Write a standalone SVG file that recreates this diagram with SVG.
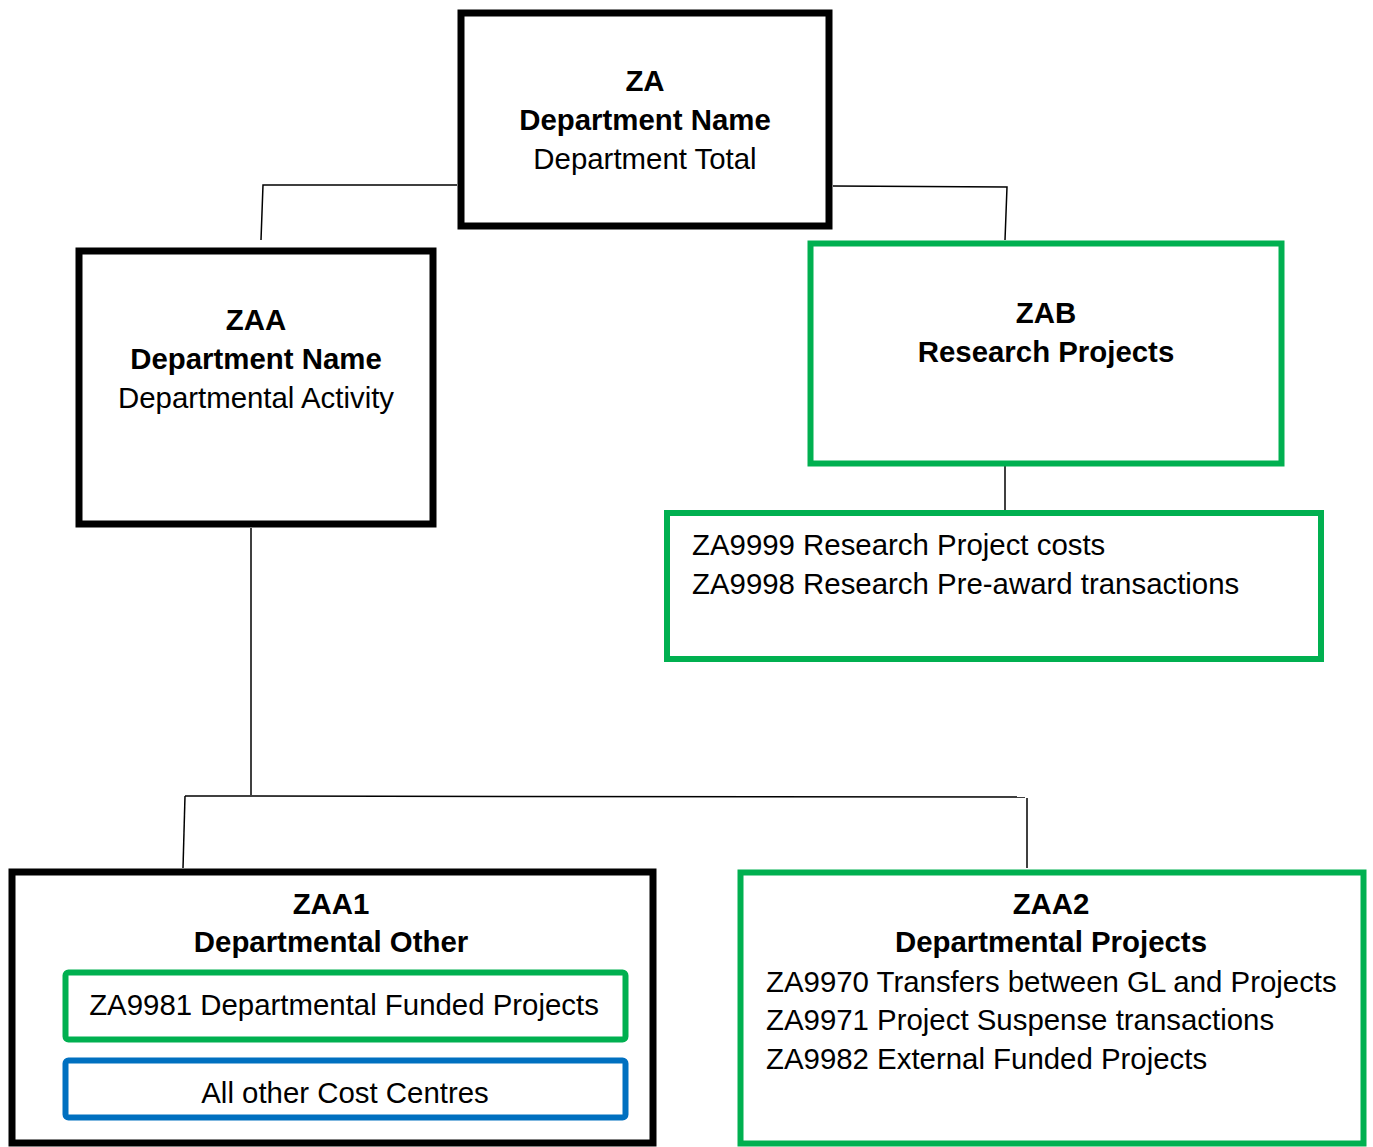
<svg xmlns="http://www.w3.org/2000/svg" width="1373" height="1147" viewBox="0 0 1373 1147">
<style>
text{font-family:"Liberation Sans",Arial,sans-serif;font-size:29.4px;fill:#000}
.b{font-weight:bold}
.c{text-anchor:middle}
.blk{fill:#fff;stroke:#000;stroke-width:7}
.grn{fill:#fff;stroke:#00B050;stroke-width:6}
.blu{fill:#fff;stroke:#0070C0;stroke-width:6}
.con{fill:none;stroke:#000;stroke-width:1.5}
</style>
<rect width="1373" height="1147" fill="#fff"/>
<g id="connectors">
<path class="con" d="M457,185 L263,185 L261,240"/>
<path class="con" d="M833,186 L1007,187 L1005,240"/>
<path class="con" d="M1005,460 L1005,513"/>
<path class="con" d="M251,528 L251,795"/>
<path class="con" d="M185,796 L1025,797"/>
<path class="con" d="M185,796 L183,868"/>
<path class="con" d="M1027,798 L1027,868"/>
</g>
<g id="ZA">
<rect class="blk" x="461" y="13" width="368" height="213"/>
<text class="b c" x="645" y="91">ZA</text>
<text class="b c" x="645" y="130">Department Name</text>
<text class="c" x="645" y="169">Department Total</text>
</g>
<g id="ZAA">
<rect class="blk" x="79" y="251" width="354" height="273"/>
<text class="b c" x="256" y="330">ZAA</text>
<text class="b c" x="256" y="369">Department Name</text>
<text class="c" x="256" y="408">Departmental Activity</text>
</g>
<g id="ZAB">
<rect class="grn" x="810.5" y="243.5" width="471" height="220"/>
<text class="b c" x="1046" y="323">ZAB</text>
<text class="b c" x="1046" y="362">Research Projects</text>
</g>
<g id="Research">
<rect class="grn" x="667" y="513" width="654" height="146"/>
<text x="692" y="555">ZA9999 Research Project costs</text>
<text x="692" y="594">ZA9998 Research Pre-award transactions</text>
</g>
<g id="ZAA1">
<rect class="blk" x="12" y="872" width="641" height="271"/>
<text class="b c" x="331" y="914">ZAA1</text>
<text class="b c" x="331" y="952">Departmental Other</text>
</g>
<g id="ZA9981">
<rect class="grn" x="65.5" y="972.5" width="560" height="67" rx="3"/>
<text class="c" x="344" y="1015">ZA9981 Departmental Funded Projects</text>
</g>
<g id="AllOther">
<rect class="blu" x="65.5" y="1060.5" width="560" height="57" rx="3"/>
<text class="c" x="345" y="1103">All other Cost Centres</text>
</g>
<g id="ZAA2">
<rect class="grn" x="740.5" y="872.5" width="623" height="271"/>
<text class="b c" x="1051" y="914">ZAA2</text>
<text class="b c" x="1051" y="952">Departmental Projects</text>
<text x="766" y="992">ZA9970 Transfers between GL and Projects</text>
<text x="766" y="1030">ZA9971 Project Suspense transactions</text>
<text x="766" y="1069">ZA9982 External Funded Projects</text>
</g>
</svg>
